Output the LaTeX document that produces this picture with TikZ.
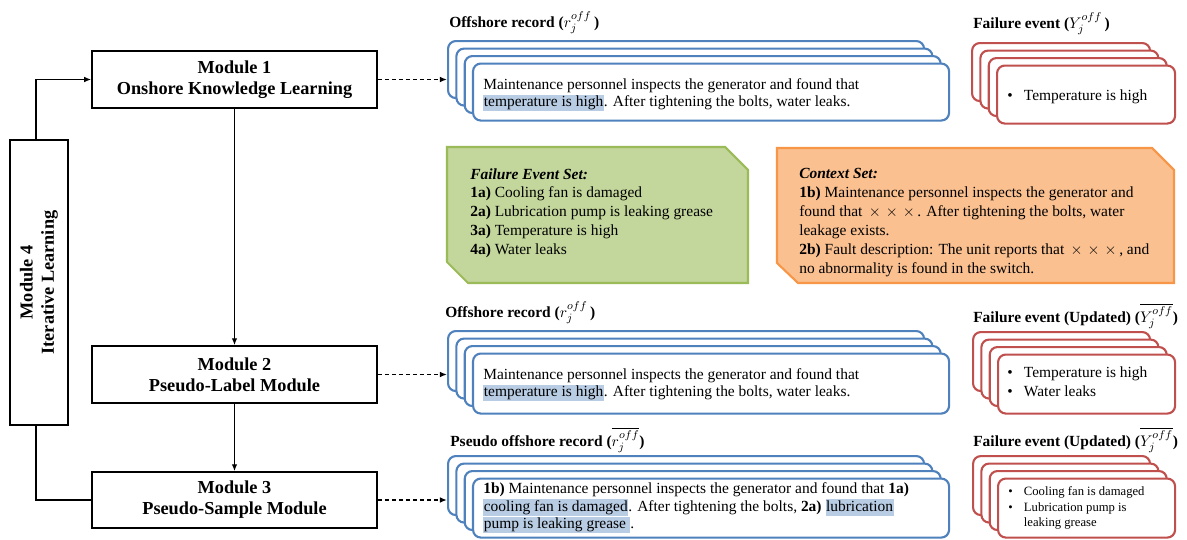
\documentclass[tikz,border=0pt]{standalone}
\usepackage{fontspec}
\setmainfont{Liberation Serif}
\usetikzlibrary{arrows.meta,calc}
\definecolor{recblue}{HTML}{4F81BD}
\definecolor{evred}{HTML}{C0504D}
\definecolor{hlblue}{HTML}{B8CCE4}
\definecolor{setgreen}{HTML}{C3D69B}
\definecolor{setgreenline}{HTML}{9BBB59}
\definecolor{ctxorange}{HTML}{FAC090}
\definecolor{ctxorangeline}{HTML}{F79646}
\newcommand{\hlbox}[1]{{\setlength{\fboxsep}{0.4pt}\colorbox{hlblue}{\rule[-2.7pt]{0pt}{10.8pt}#1}}}
\newcommand{\tms}{\makebox[1.1em]{$\times$}}
\tikzset{
	module/.style={draw, line width=1pt, minimum width=7.125cm, minimum height=1.425cm, align=center, font=\bfseries\fontsize{13}{15}\selectfont},
	card/.style={draw, line width=1.5pt, rounded corners=5.5pt, fill=white, anchor=north west, inner sep=0pt},
	rectext/.style={anchor=west, align=left, inner sep=0pt, font=\fontsize{11}{12.4}\selectfont},
	settext/.style={anchor=west, align=left, inner sep=0pt, font=\fontsize{11}{13.4}\selectfont},
	evtext/.style={anchor=west, inner sep=0pt, font=\fontsize{11}{13.6}\selectfont},
	caption/.style={anchor=base west, inner sep=0pt, font=\bfseries\fontsize{11}{12.6}\selectfont},
	flow/.style={line width=1pt, -{Latex[length=5pt,width=4pt]}},
	dashflow/.style={flow, dash pattern=on 3pt off 2pt}
}
% stack of four cards: name, colour, x, y of the back card, width, height (px)
\newcommand{\cardstack}[6]{%
	\foreach \k in {0,...,3}
		\node[card, draw=#2, minimum width=#5*0.025cm, minimum height=#6*0.025cm] (#1-\k) at ({#3+8.33*\k},{#4+7.5*\k}) {};
}

\begin{document}
\begin{tikzpicture}[x=0.025cm, y=-0.025cm]
	\useasboundingbox (0,0) rectangle (1187,539);
	
	%%%%% MODULES %%%%%
	\node[module] (m1) at (234.5,79.5) {Module 1\\Onshore Knowledge Learning};
	\node[module] (m2) at (234.5,374.5) {Module 2\\Pseudo-Label Module};
	\node[module, minimum height=1.4cm] (m3) at (234.5,500) {Module 3\\Pseudo-Sample Module};
	\node[module, minimum width=1.45cm, minimum height=7.125cm] (m4) at (39,282.5)
		{\rotatebox{90}{\begin{tabular}{@{}c@{}}Module 4\\Iterative Learning\end{tabular}}};
	
	\draw[flow] (m1.south) -- (m2.north);
	\draw[flow] (m2.south) -- (m3.north);
	\draw[flow] ([xshift=-2pt]m4.north) |- (m1.west);
	\draw[line width=1pt] ([xshift=-2pt]m4.south) |- (m3.west);
	
	%%%%% RECORD STACKS %%%%%
	\cardstack{offA}{recblue}{447}{40}{476}{57}
	\cardstack{offB}{recblue}{447}{330}{476}{60}
	\cardstack{offC}{recblue}{447}{455}{476}{59}
	
	\cardstack{evA}{evred}{971}{42}{178}{58}
	\cardstack{evB}{evred}{972}{331}{177}{59}
	\cardstack{evC}{evred}{972}{455}{177}{59}
	
	\draw[dashflow] (m1.east) -- (m1.east -| offA-0.west);
	\draw[dashflow] (m2.east) -- (m2.east -| offB-0.west);
	\draw[dashflow] (m3.east) -- (m3.east -| offC-0.west);
	
	\node[caption] (capA) at (449,27) {Offshore record ($r_j^{off}$\,)};
	\node[caption] (capB) at (973,28) {Failure event ($Y_j^{off}$\,)};
	\node[caption] (capC) at (445,317) {Offshore record ($r_j^{off}$\,)};
	\node[caption] (capD) at (973,322) {Failure event (Updated) ($\overline{Y_j^{off}}$)};
	\node[caption] (capE) at (450,446) {Pseudo offshore record ($\overline{r_j^{off}}$)};
	\node[caption] (capF) at (973,446) {Failure event (Updated) ($\overline{Y_j^{off}}$)};
	
	\node[rectext] (txtA) at (483,95) {Maintenance personnel inspects the generator and found that\\
		\hlbox{temperature is high}. After tightening the bolts, water leaks.};
	\node[rectext] (txtB) at (483,385) {Maintenance personnel inspects the generator and found that\\
		\hlbox{temperature is high}. After tightening the bolts, water leaks.};
	\node[rectext] (txtC) at (483,508) {\textbf{1b)} Maintenance personnel inspects the generator and found that \textbf{1a)}\\
		\hlbox{cooling fan is damaged}. After tightening the bolts, \textbf{2a)} \hlbox{lubrication}\\
		\hlbox{pump is leaking grease }.};
	
	\node[evtext] (evtA) at (1007,97) {\begin{tabular}{@{}l@{\hspace{8pt}}l@{}}\textbullet & Temperature is high\end{tabular}};
	\node[evtext] (evtB) at (1007,383) {\begin{tabular}{@{}l@{\hspace{8pt}}l@{}}\textbullet & Temperature is high\\ \textbullet & Water leaks\end{tabular}};
	\node[evtext, font=\fontsize{9}{11.2}\selectfont] (evtC) at (1008,508) {\begin{tabular}{@{}l@{\hspace{8pt}}l@{}}\textbullet & Cooling fan is damaged\\ \textbullet & Lubrication pump is\\ & leaking grease\end{tabular}};
	
	%%%%% SETS %%%%%
	\draw[setgreenline, fill=setgreen, line width=1.5pt] (447,147) -- (725,147) -- (748,170) -- (748,283) -- (468,283) -- (447,262) -- cycle;
	\node[settext] (fes) at (470,213) {\textbf{\textit{Failure Event Set:}}\\
		\textbf{1a)} Cooling fan is damaged\\
		\textbf{2a)} Lubrication pump is leaking grease\\
		\textbf{3a)} Temperature is high\\
		\textbf{4a)} Water leaks};
	
	\draw[ctxorangeline, fill=ctxorange, line width=1.5pt] (777,148) -- (1152,148) -- (1174,170) -- (1174,283) -- (798,283) -- (777,263) -- cycle;
	\node[settext] (ctx) at (799,222.5) {\textbf{\textit{Context Set:}}\\
		\textbf{1b)} Maintenance personnel inspects the generator and\\
		found that \tms\tms\tms. After tightening the bolts, water\\
		leakage exists.\\
		\textbf{2b)} Fault description: The unit reports that \tms\tms\tms, and\\
		no abnormality is found in the switch.};
\end{tikzpicture}
\end{document}
